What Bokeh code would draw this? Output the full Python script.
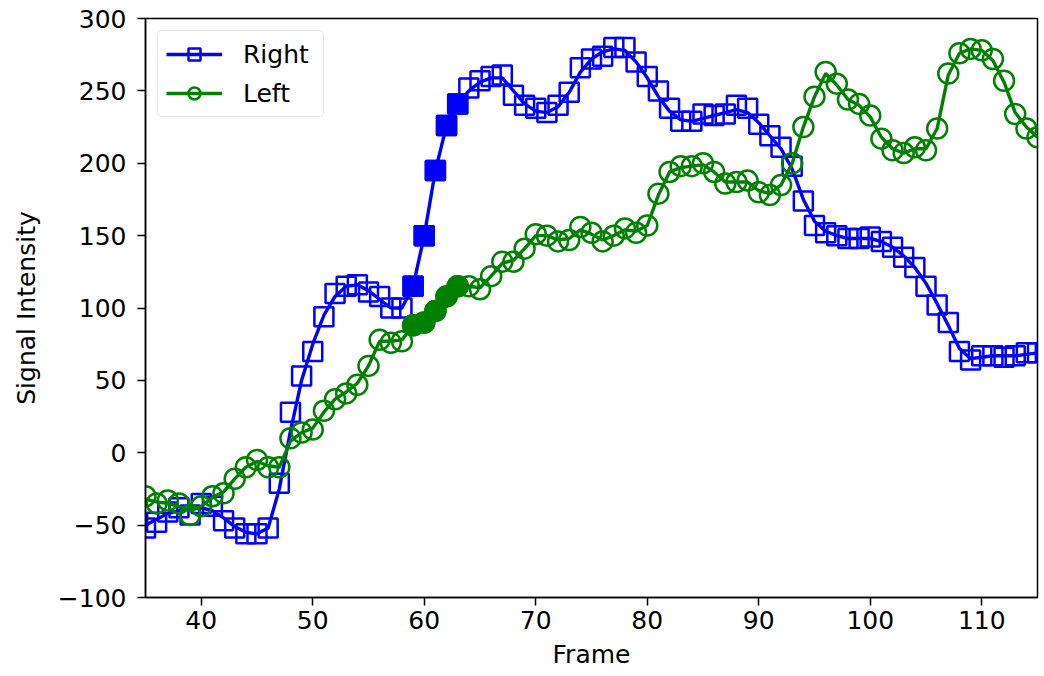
from bokeh.plotting import figure
from bokeh.models import Legend, LegendItem, Range1d, FixedTicker
from bokeh.embed import file_html
from bokeh.resources import INLINE

frames = list(range(35, 116))

right_raw = [-52, -48, -41, -38, -43, -35, -37, -47, -52, -56, -56, -52, -21, 28, 53, 70,
             94, 110, 115, 116, 111, 108, 100, 100, 115, 150, 195, 226, 241, 252, 257, 260,
             261, 247, 240, 238, 235, 240, 249, 266, 272, 274, 280, 280, 270, 260, 250, 238,
             229, 229, 234, 233, 234, 240, 238, 227, 219, 211, 198, 174, 157, 152, 150, 148,
             148, 149, 146, 142, 135, 128, 115, 102, 90, 70, 64, 67, 67, 66, 67, 69, 69]

right_line = [-50, -46, -42, -40, -39, -38, -40, -45, -51, -55, -56, -52, -25, 15, 50, 75,
              95, 108, 115, 116, 112, 106, 100, 100, 115, 150, 195, 226, 241, 250, 256, 259,
              259, 250, 241, 236, 235, 239, 249, 263, 272, 277, 279, 278, 270, 259, 246, 236,
              230, 229, 231, 233, 235, 237, 235, 228, 219, 210, 196, 175, 160, 153, 150, 148,
              148, 148, 146, 142, 136, 128, 117, 103, 88, 72, 65, 66, 67, 67, 67, 68, 69]

left_raw = [-30, -35, -33, -35, -43, -37, -30, -28, -18, -10, -5, -10, -10, 10, 14, 16,
            29, 37, 41, 47, 60, 78, 76, 77, 88, 90, 98, 108, 115, 115, 113, 122,
            132, 132, 141, 151, 150, 146, 147, 156, 152, 146, 150, 155, 152, 157, 179, 194,
            198, 198, 200, 194, 186, 187, 188, 180, 178, 185, 200, 225, 246, 263, 255, 244,
            241, 233, 217, 209, 207, 211, 209, 224, 262, 276, 279, 278, 272, 257, 234, 224, 218]

left_line = [-32, -34, -35, -37, -40, -37, -31, -27, -18, -10, -6, -9, -10, 8, 14, 17,
             28, 37, 42, 48, 60, 77, 77, 78, 88, 91, 98, 108, 115, 115, 114, 122,
             131, 133, 141, 150, 150, 147, 148, 154, 151, 147, 150, 154, 153, 157, 178, 194,
             197, 198, 199, 194, 187, 187, 187, 181, 179, 185, 200, 225, 246, 262, 254, 244,
             240, 232, 218, 210, 207, 210, 210, 224, 261, 276, 279, 278, 271, 256, 235, 225, 218]

highlight = [59, 60, 61, 62, 63]

x_ticks = [40, 50, 60, 70, 80, 90, 100, 110]
y_ticks = [-100, -50, 0, 50, 100, 150, 200, 250, 300]

BLUE = "#0000ff"
GREEN = "#008000"
FONT = "DejaVu Sans"

p = figure(width=1040, height=676, output_backend="svg", toolbar_location=None,
           x_range=Range1d(35, 115), y_range=Range1d(-100, 300),
           min_border_left=145, min_border_top=18, min_border_bottom=79, min_border_right=3)
p.grid.visible = False
p.outline_line_color = "black"
p.outline_line_width = 1.5

for ax in (p.xaxis[0], p.yaxis[0]):
    ax.major_label_text_font = FONT
    ax.major_label_text_font_size = "25px"
    ax.axis_label_text_font = FONT
    ax.axis_label_text_font_size = "25px"
    ax.axis_label_text_font_style = "normal"
    ax.axis_label_text_color = "black"
    ax.minor_tick_line_color = None
    ax.major_tick_in = 0
    ax.major_tick_out = 8
    ax.major_tick_line_width = 1.5
    ax.axis_line_width = 1.5
    ax.major_label_text_color = "black"

p.xaxis[0].major_label_standoff = 5
p.yaxis[0].major_label_standoff = 11
p.xaxis[0].ticker = FixedTicker(ticks=x_ticks)
p.yaxis[0].ticker = FixedTicker(ticks=y_ticks)
p.xaxis[0].axis_label = "Frame"
p.yaxis[0].axis_label = "Signal Intensity"
p.xaxis[0].axis_label_standoff = 8
p.yaxis[0].axis_label_standoff = 14
p.yaxis[0].major_label_overrides = {-100: "\u2212100", -50: "\u221250"}

rl = p.line(frames, right_line, line_color=BLUE, line_width=3.4)
rs = p.scatter(frames, right_raw, marker="square", size=19, line_color=BLUE, line_width=2.5,
               fill_color=None)
ll = p.line(frames, left_line, line_color=GREEN, line_width=3.4)
ls = p.scatter(frames, left_raw, marker="circle", size=20, line_color=GREEN, line_width=2.5,
               fill_color=None)

hi_idx = [frames.index(f) for f in highlight]
p.scatter(highlight, [right_raw[i] for i in hi_idx], marker="square", size=19,
          line_color=BLUE, fill_color=BLUE, line_width=2.5)
p.scatter(highlight, [left_raw[i] for i in hi_idx], marker="circle", size=20,
          line_color=GREEN, fill_color=GREEN, line_width=2.5)

legend = Legend(items=[LegendItem(label="Right", renderers=[rl, rs]),
                       LegendItem(label="Left", renderers=[ll, ls])],
                location="top_left")
legend.label_text_font = FONT
legend.label_text_font_size = "25px"
legend.label_text_color = "black"
legend.glyph_width = 56
legend.glyph_height = 30
legend.label_height = 30
legend.spacing = 9
legend.padding = 8
legend.margin = 12
legend.label_standoff = 21
legend.label_width = 72
legend.border_line_color = "#cccccc"
legend.border_line_width = 1.5
legend.background_fill_alpha = 0.8
try:
    legend.border_radius = 5
except Exception:
    pass
p.add_layout(legend)

open("out.html", "w").write(file_html(p, INLINE))
